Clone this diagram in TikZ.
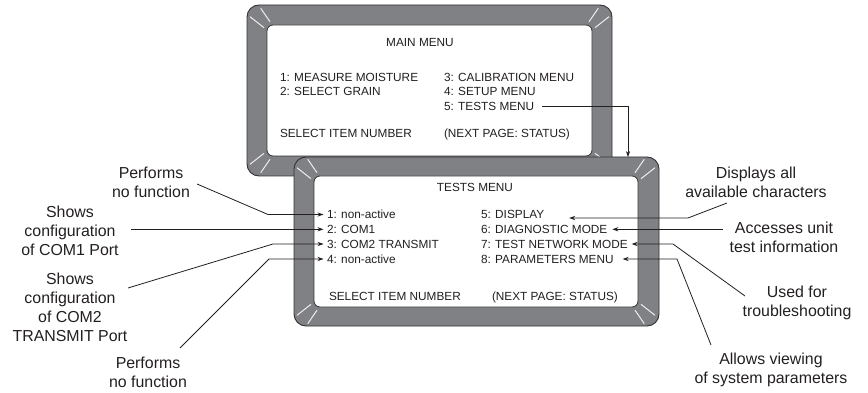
\documentclass[tikz,border=0pt]{standalone}
\usepackage{fontspec}
\setmainfont{Liberation Sans}
\usetikzlibrary{arrows.meta}
\definecolor{bezelgray}{RGB}{128,129,133}
\definecolor{edgegray}{RGB}{50,50,52}
\definecolor{ink}{RGB}{35,31,32}
\definecolor{tickwhite}{RGB}{238,238,238}
\newcommand\cornerticks[4]{%
  \draw[tick] ({#1-3*(#3)},{#2+3.3*(#4)}) -- ({#1+6.3*(#3)},{#2+16.7*(#4)});
  \draw[tick] ({#1+3*(#3)},{#2-2.7*(#4)}) -- ({#1+17*(#3)},{#2+8.3*(#4)});}
\begin{document}
\begin{tikzpicture}[x=1pt,y=-1pt,
  bezel/.style={draw=edgegray, fill=bezelgray, line width=0.9pt, rounded corners=12pt, inner sep=0pt, outer sep=0pt},
  screen/.style={draw=edgegray, fill=white, line width=0.8pt, rounded corners=6pt, inner sep=0pt, outer sep=0pt},
  tick/.style={draw=tickwhite, line width=1pt},
  menutxt/.style={font=\fontsize{11.8}{14}\selectfont, text=ink, inner sep=0pt, outer sep=0pt, text height=8.6pt, text depth=0pt, anchor=west},
  lbl/.style={font=\fontsize{15.9}{19}\selectfont, text=ink, align=center, inner sep=0pt},
  lead/.style={draw=ink, line width=0.8pt},
  arr/.style={lead, -{Stealth[length=6pt,width=4.2pt]}}]
\useasboundingbox (0,0) rectangle (868,393);

% ---------- main menu ----------
\node[bezel, minimum width=365pt, minimum height=171pt] (mb) at (429.5,90.5) {};
\node[screen, minimum width=325pt, minimum height=131pt] (ms) at (429.5,90.5) {};
\cornerticks{267}{25}{-1}{-1}
\cornerticks{592}{25}{1}{-1}
\cornerticks{267}{156}{-1}{1}
\cornerticks{592}{156}{1}{1}
\node[menutxt, anchor=center] (mt) at (420,42.5) {MAIN MENU};
\node[menutxt] (m1) at (280,77.5) {1: MEASURE MOISTURE};
\node[menutxt] (m2) at (280,91) {2: SELECT GRAIN};
\node[menutxt] (m3) at (444,77.5) {3: CALIBRATION MENU};
\node[menutxt] (m4) at (444,91) {4: SETUP MENU};
\node[menutxt] (m5) at (444,106.7) {5: TESTS MENU};
\node[menutxt] (m6) at (280,133.3) {SELECT ITEM NUMBER};
\node[menutxt] (m7) at (444,133.3) {(NEXT PAGE: STATUS)};

% ---------- tests menu ----------
\node[bezel, minimum width=365pt, minimum height=169pt] (tb) at (476.5,241.5) {};
\coordinate (drop) at (628,0);
\draw[arr] ([xshift=8pt]m5.east) -| (drop |- tb.north);
\node[screen, minimum width=324pt, minimum height=131pt] (ts) at (476,241.5) {};
\cornerticks{314}{176}{-1}{-1}
\cornerticks{638}{176}{1}{-1}
\cornerticks{314}{307}{-1}{1}
\cornerticks{638}{307}{1}{1}
\node[menutxt, anchor=center] (tt) at (475,187.5) {TESTS MENU};
\node[menutxt] (t1) at (327,214.5) {1: non-active};
\node[menutxt] (t2) at (327,229.3) {2: COM1};
\node[menutxt] (t3) at (327,244) {3: COM2 TRANSMIT};
\node[menutxt] (t4) at (327,259) {4: non-active};
\node[menutxt] (t5) at (481,214.5) {5: DISPLAY};
\node[menutxt] (t6) at (481,229.3) {6: DIAGNOSTIC MODE};
\node[menutxt] (t7) at (481,244) {7: TEST NETWORK MODE};
\node[menutxt] (t8) at (481,259) {8: PARAMETERS MENU};
\node[menutxt] (t9) at (329,296) {SELECT ITEM NUMBER};
\node[menutxt] (t10) at (492,296) {(NEXT PAGE: STATUS)};

% ---------- labels ----------
\node[lbl] (L1) at (151,182) {Performs\\no function};
\node[lbl] (L2) at (70,231) {Shows\\configuration\\of COM1 Port};
\node[lbl] (L3) at (70,307.8) {Shows\\configuration\\of COM2\\TRANSMIT Port};
\node[lbl] (L4) at (148,372) {Performs\\no function};
\node[lbl] (R5) at (756,182) {Displays all\\available characters};
\node[lbl] (R6) at (784,237.1) {Accesses unit\\test information};
\node[lbl] (R7) at (797,302.7) {Used for\\troubleshooting};
\node[lbl] (R8) at (771,370.3) {Allows viewing\\of system parameters};

% ---------- leader lines ----------
\coordinate (c1) at (197,184);
\coordinate (k1) at (268,0);
\coordinate (c2) at (131,0);
\coordinate (c3) at (128,288);
\coordinate (k3) at (273,0);
\coordinate (c4) at (180,348);
\coordinate (k4) at (269,0);
\draw[arr, shorten >=3.5pt] (c1) -- (k1 |- t1.west) -- (t1.west);
\draw[arr, shorten >=3.5pt] (c2 |- t2.west) -- (t2.west);
\draw[arr, shorten >=3.5pt] (c3) -- (k3 |- t3.west) -- (t3.west);
\draw[arr, shorten >=3.5pt] (c4) -- (k4 |- t4.west) -- (t4.west);

\coordinate (r5) at (727,203);
\coordinate (tip5) at ([xshift=25pt,yshift=-3.5pt]t5.east);
\coordinate (k5) at (688,0);
\coordinate (r6) at (723,0);
\coordinate (r7) at (745,296);
\coordinate (k7) at (673,0);
\coordinate (r8) at (711,345);
\coordinate (k8) at (677,0);
\draw[arr] (r5) -- (k5 |- tip5) -- (tip5);
\draw[arr] (r6 |- t6.east) -- ([xshift=5pt]t6.east);
\draw[arr] (r7) -- (k7 |- t7.east) -- ([xshift=4pt]t7.east);
\draw[arr] (r8) -- (k8 |- t8.east) -- ([xshift=9pt]t8.east);
\end{tikzpicture}
\end{document}
